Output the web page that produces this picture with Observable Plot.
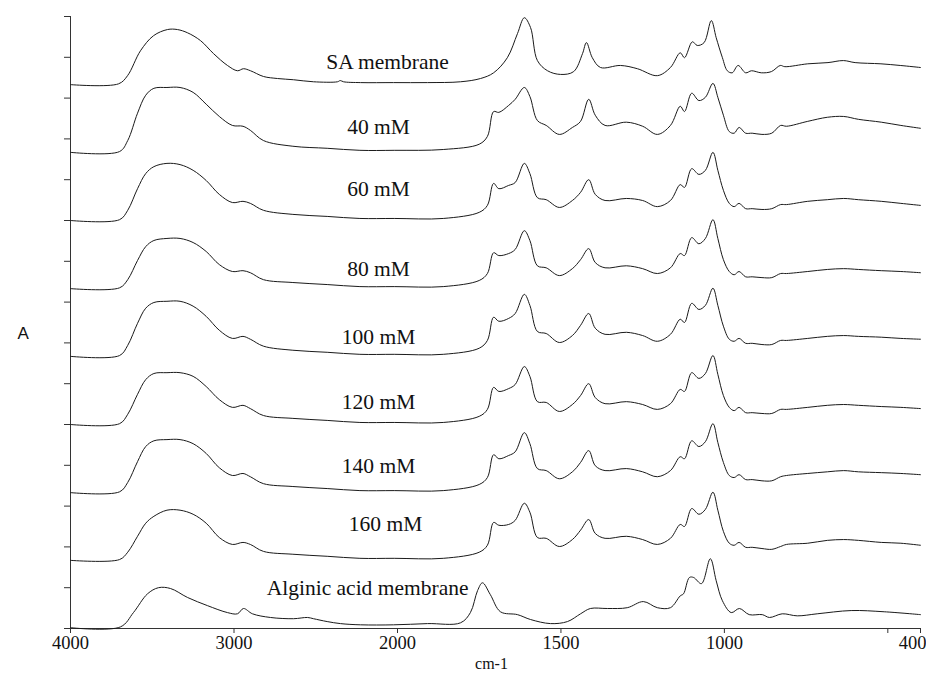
<!DOCTYPE html>
<html><head><meta charset="utf-8">
<script src="https://cdn.jsdelivr.net/npm/d3@7"></script>
<script src="https://cdn.jsdelivr.net/npm/@observablehq/plot@0.6"></script>
<style>body{margin:0;background:#fff} #chart svg{display:block}</style>
</head><body><div id="chart"></div>
<script>
// ---- data (absorbance, arbitrary units; spectra are offset vertically) ----
const seriesNames = ["SA membrane","40 mM","60 mM","80 mM","100 mM","120 mM","140 mM","160 mM","Alginic acid membrane"];
const offsets = [13.33, 11.67, 10.0, 8.33, 6.67, 5.0, 3.33, 1.67, 0.02];

const saWavenumbers = [4000,3706,3651,3572,3492,3407,3346,3284,3205,3125,3040,2979,2942,2899,2820,2734,2636,2514,2367,2350,2330,2226,2024,1908,1807,1746,1706,1664,1633,1612,1593,1572,1541,1501,1461,1434,1422,1404,1379,1318,1266,1205,1165,1135,1122,1098,1083,1062,1040,1025,1006,991,976,958,935,917,887,856,829,815,745,683,636,600,521,462,400];
const saValues = [0,0.02,0.22,0.83,1.20,1.35,1.35,1.27,1.08,0.76,0.47,0.34,0.39,0.34,0.20,0.15,0.12,0.07,0.07,0.10,0.07,0.05,0.05,0.05,0.07,0.15,0.29,0.66,1.25,1.64,1.40,0.59,0.34,0.25,0.32,0.76,1.03,0.66,0.42,0.47,0.39,0.22,0.42,0.78,0.66,1.05,0.96,1.03,1.57,1.15,0.66,0.34,0.29,0.47,0.29,0.34,0.29,0.32,0.47,0.44,0.51,0.54,0.59,0.54,0.51,0.47,0.42];

const alginicWavenumbers = [4000,3694,3615,3529,3462,3388,3284,3162,3040,2979,2942,2887,2777,2636,2550,2514,2430,2349,2226,2024,1908,1807,1777,1755,1740,1716,1685,1633,1593,1532,1480,1440,1410,1358,1297,1248,1205,1165,1135,1125,1107,1094,1070,1043,1025,1006,979,954,924,884,862,823,777,716,612,511,400];
const alginicValues = [0,0.02,0.37,0.83,0.98,0.96,0.74,0.54,0.37,0.34,0.47,0.34,0.25,0.22,0.25,0.22,0.15,0.10,0.07,0.07,0.10,0.12,0.37,0.91,1.10,0.81,0.39,0.32,0.20,0.10,0.15,0.34,0.47,0.47,0.49,0.64,0.49,0.49,0.78,0.83,1.23,1.23,1.08,1.69,1.15,0.66,0.37,0.47,0.32,0.32,0.25,0.34,0.29,0.34,0.42,0.39,0.32];

const saltWavenumbers = [4000,3700,3650,3590,3540,3490,3410,3330,3250,3170,3090,3010,2945,2900,2820,2640,2430,2230,2020,1860,1750,1725,1706,1690,1660,1640,1612,1595,1572,1545,1505,1465,1440,1415,1395,1365,1300,1250,1205,1165,1135,1122,1100,1078,1058,1035,1020,1003,985,970,955,935,915,885,855,828,810,745,685,635,590,520,460,400];
const mM40 = [0,.02,.29,.96,1.40,1.57,1.59,1.59,1.47,1.18, .88,.66,.64,.54,.29,.15,.10,.05,.05,.07, .20,.39,1.00,.98,1.15,1.30,1.59,1.37,.78,.66, .44,.61,.76,1.30,.91,.66,.74,.64,.44,.66, 1.13,1.00,1.45,1.27,1.35,1.69,1.35,.91,.51,.47, .61,.47,.47,.44,.47,.66,.64,.76,.86,.88, .81,.74,.66,.59];
const mM60 = [0,.02,.25,.78,1.15,1.32,1.40,1.37,1.23,.98, .64,.44,.47,.42,.25,.15,.10,.05,.05,.05, .20,.37,.91,.78,.86,.93,1.40,1.15,.56,.51, .32,.49,.69,1.00,.64,.49,.54,.49,.34,.49, .88,.81,1.27,1.13,1.23,1.67,1.23,.74,.42,.34, .42,.29,.29,.27,.29,.39,.39,.47,.51,.54, .51,.47,.42,.37];
const mM80 = [0,.02,.22,.69,1.03,1.18,1.23,1.23,1.13,.91, .59,.42,.44,.39,.22,.15,.10,.05,.05,.05, .20,.37,.88,.81,.86,.96,1.42,1.18,.56,.51, .32,.49,.71,.98,.64,.51,.56,.49,.37,.51, .86,.81,1.25,1.10,1.23,1.69,1.23,.71,.42,.34, .42,.29,.29,.27,.27,.37,.37,.42,.47,.49, .47,.44,.42,.39];
const mM100 = [0,.02,.27,.81,1.18,1.32,1.35,1.35,1.23,.98, .64,.44,.49,.42,.25,.15,.10,.05,.05,.05, .20,.39,.96,.86,.93,1.05,1.52,1.25,.61,.56, .34,.51,.76,1.05,.69,.54,.59,.51,.37,.54, .91,.83,1.30,1.15,1.25,1.67,1.25,.74,.42,.37, .44,.32,.32,.29,.29,.39,.39,.44,.49,.51, .49,.47,.44,.42];
const mM120 = [0,.02,.25,.74,1.10,1.25,1.27,1.27,1.18,.93, .61,.42,.47,.39,.22,.15,.10,.05,.05,.05, .20,.37,.91,.81,.88,.98,1.42,1.18,.56,.54, .32,.49,.71,1.00,.66,.51,.56,.49,.37,.51, .86,.81,1.27,1.13,1.25,1.69,1.23,.71,.42,.34, .42,.29,.29,.27,.27,.37,.37,.42,.47,.49, .47,.44,.42,.39];
const mM140 = [0,.02,.25,.76,1.13,1.27,1.30,1.30,1.20,.96, .61,.42,.47,.39,.22,.15,.10,.05,.05,.05, .20,.37,.93,.83,.91,1.00,1.47,1.20,.59,.54, .34,.51,.74,1.03,.66,.54,.59,.51,.39,.54, .88,.83,1.27,1.13,1.25,1.69,1.23,.74,.42,.37, .44,.32,.32,.29,.29,.39,.42,.47,.51,.54, .51,.49,.47,.44];
const mM160 = [0,.02,.20,.59,.91,1.08,1.23,1.23,1.13,.91, .56,.39,.44,.39,.22,.15,.10,.05,.05,.05, .20,.37,.93,.86,.88,.98,1.40,1.18,.56,.54, .34,.51,.74,1.00,.66,.54,.59,.51,.39,.54, .88,.83,1.27,1.13,1.25,1.67,1.23,.71,.42,.37, .44,.32,.32,.29,.27,.34,.39,.42,.49,.51, .49,.44,.42,.37];

const labelWavenumbers = [2061, 2116, 2116, 2116, 2116, 2116, 2116, 2073, 2183];
const labelLevels = [13.87, 12.30, 10.76, 8.80, 7.13, 5.56, 3.99, 2.57, 1.00];

const xTicks = [4000, 3000, 2000, 1500, 1000, 500, 400];
const xTickLabels = ["4000", "3000", "2000", "1500", "1000", "", "400"];
const yTicks = d3.range(0, 16);

// ---- build table ----
const spectra = [
  [saWavenumbers, saValues],
  [saltWavenumbers, mM40],
  [saltWavenumbers, mM60],
  [saltWavenumbers, mM80],
  [saltWavenumbers, mM100],
  [saltWavenumbers, mM120],
  [saltWavenumbers, mM140],
  [saltWavenumbers, mM160],
  [alginicWavenumbers, alginicValues]
];
const rows = [];
spectra.forEach(([ws, vs], k) => ws.forEach((w, i) => rows.push({series: seriesNames[k], w, a: offsets[k] + vs[i]})));
const labels = seriesNames.map((name, k) => ({name, w: labelWavenumbers[k], a: labelLevels[k]}));
const tickLabelRows = xTicks.map((t, i) => ({t, label: xTickLabels[i]}));
const innerTickLabels = tickLabelRows.filter(d => d.t !== 400 && d.label !== "");
const edgeTickLabels = tickLabelRows.filter(d => d.t === 400);

const serif = "'Liberation Serif', 'Times New Roman', serif";
const chart = Plot.plot({
  width: 926, height: 677,
  marginLeft: 70, marginRight: 6, marginTop: 16, marginBottom: 49,
  style: {fontFamily: serif, fontSize: "18.5px", color: "#111", background: "#fff"},
  x: {type: "linear", domain: [4000, 2000, 400], range: [70, 397, 920]},
  y: {domain: [0, 15], range: [628, 16]},
  marks: [
    Plot.ruleX([4000], {stroke: "#333"}),
    Plot.ruleY([0], {stroke: "#333"}),
    Plot.axisX({ticks: xTicks, tickFormat: () => "", tickSize: 5, label: null, stroke: "#333"}),
    Plot.axisY({ticks: yTicks, tickFormat: () => "", tickSize: 6, label: null, stroke: "#333"}),
    Plot.text(innerTickLabels, {x: "t", text: "label", frameAnchor: "bottom", dy: 20, fontFamily: serif, fontSize: 18.5, fill: "#111"}),
    Plot.text(edgeTickLabels, {x: "t", text: "label", frameAnchor: "bottom", dy: 20, dx: 6, textAnchor: "end", fontFamily: serif, fontSize: 18.5, fill: "#111"}),
    Plot.line(rows, {x: "w", y: "a", z: "series", curve: "catmull-rom", stroke: "#1a1a1a", strokeWidth: 1}),
    Plot.text(labels, {x: "w", y: "a", text: "name", fontFamily: serif, fontSize: 21.5, fill: "#111"}),
    Plot.text(["A"], {text: d => d, frameAnchor: "left", dx: -53, dy: 11, fontFamily: "'Liberation Sans', Arial, sans-serif", fontSize: 17, fill: "#111"}),
    Plot.text(["cm-1"], {text: d => d, frameAnchor: "bottom", dx: -4, dy: 40, fontFamily: serif, fontSize: 16, fill: "#111"})
  ]
});
document.getElementById("chart").appendChild(chart);
</script>
</body></html>
